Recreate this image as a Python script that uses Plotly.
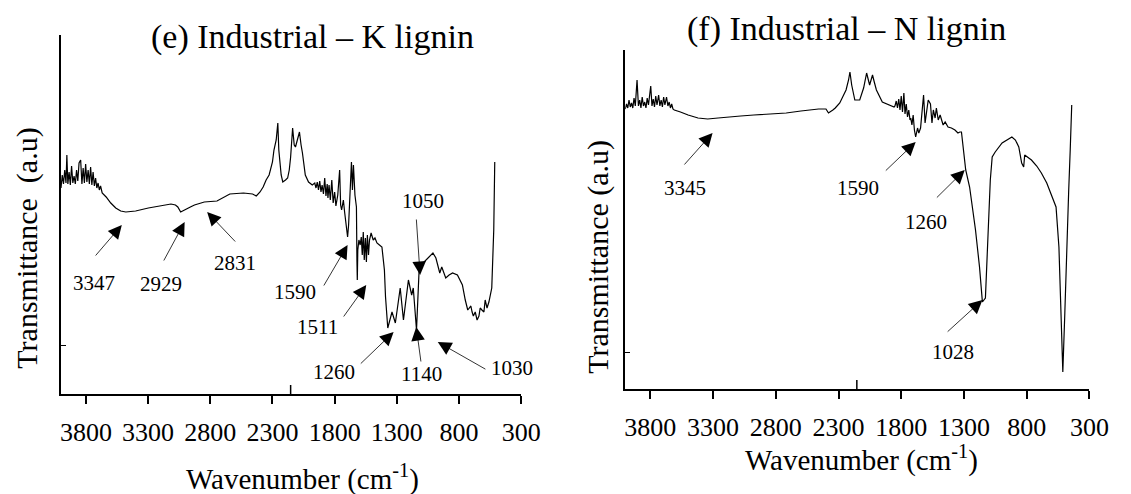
import plotly.graph_objects as go

# ---------------- Data: (e) Industrial - K lignin ----------------
k_wavenumber = [4000,3990,3980,3970,3960,3953,3945,3935,3925,3915,3905,3895,3885,3875,3865,3855,3842,3832,3822,3812,
                3802,3792,3782,3772,3762,3752,3742,3732,3722,3712,3702,3692,3682,3669,
                3637,3600,3560,3520,3479,3400,3298,3200,3116,3080,3061,3038,2998,2960,2927,2848,2746,2643,2533,2460,
                2430,2400,2375,2351,2327,2300,2288,2270,2257,2249,2230,2217,2195,2178,2165,2154,2138,2125,2115,2100,
                2083,2070,2059,2036,2010,1980,
                1960,1950,1940,1930,1920,1910,1901,1890,1880,1870,1860,1854,1845,1835,1823,1812,1800,1790,1775,1760,
                1752,1744,1730,1720,1706,1696,1688,1681,1665,1657,1649,1637,1625,1621,1618,1614,1605,1595,1586,1578,
                1570,1562,1553,1545,1537,1528,1520,1507,1490,1476,1460,1440,1420,1400,1391,1373,1339,1312,1273,1247,
                1207,1181,1168,1142,1120,1089,1050,1010,986,955,939,907,880,852,813,773,750,740,730,718,705,695,685,
                670,655,640,630,616,600,590,575,560,537,521,513]
k_transmittance = [206,219,210,224,211,239,210,222,209,228,211,218,210,224,213,231,234,210,226,211,
                   230,212,224,210,227,209,222,208,216,206,211,204,208,201,
                   197,191,186,183,182,183,186,188,190,189,187,182,185,187,189,192,193,200,201,200,
                   198,202,207,214,219,232,244,254,271,244,219,212,214,216,224,237,266,249,247,254,
                   262,249,241,219,212,209,
                   211,206,212,204,213,202,209,200,216,198,210,196,209,194,214,191,202,188,199,224,
                   189,184,194,182,169,157,169,194,232,204,229,199,187,134,114,144,154,149,157,139,
                   162,134,156,132,159,139,154,161,154,156,151,149,147,124,97,66,82,71,106,74,
                   114,99,106,64,127,131,136,141,136,121,127,116,119,121,119,109,94,89,84,86,88,82,78,
                   82,74,78,86,84,82,94,86,92,106,164,232]

# ---------------- Data: (f) Industrial - N lignin ----------------
n_wavenumber = [4000,3990,3980,3970,3960,3950,3940,3930,3920,3906,3895,3885,3875,3865,3855,3845,3835,3825,3815,3797,
                3787,3777,3767,3757,3747,3734,3724,3714,3704,3694,3684,3671,3660,3650,3640,3630,3620,3609,
                3560,3499,3420,3343,3260,3186,3080,2975,2850,2717,2600,2459,2400,2380,2345,2326,2290,2264,2240,2220,
                2209,2195,2170,2150,2131,2100,2076,2052,2029,2015,1998,1951,1900,1857,
                1850,1840,1830,1820,1810,1800,1790,1779,1770,1760,1750,1740,1730,1724,1715,1705,1695,1685,1670,1660,
                1646,1635,1622,1610,1599,1585,1567,1555,1544,1530,1520,1505,1490,1466,1450,1427,1400,1372,1348,1333,
                1320,1309,1286,1255,1208,1176,1153,1129,1114,1090,1075,1051,996,950,918,890,863,840,824,816,790,762,
                720,683,640,605,566,543,527,512,496,481,465,453,441]
n_transmittance = [280,285,281,289,282,286,281,291,283,309,283,289,281,292,283,287,281,291,284,303,
                   283,290,282,293,284,294,283,289,282,292,284,292,283,287,281,285,280,279,
                   277,274,271,270,271,272,273,274,275,276,278,280,280,276,279,281,286,292,299,309,
                   317,304,289,289,289,301,316,304,314,307,299,287,284,282,
                   283,288,281,290,279,293,277,296,275,285,272,279,269,271,264,274,259,252,261,256,
                   261,277,294,266,279,289,285,266,279,271,281,269,274,264,267,262,261,259,256,257,
                   257,246,219,202,159,122,87,91,142,209,232,237,246,250,252,249,242,226,222,234,232,229,
                   223,216,206,194,182,142,76,17,76,149,199,239,284]

tick_values = [3800, 3300, 2800, 2300, 1800, 1300, 800, 300]
tick_text = [str(v) for v in tick_values]

# peak labels: (label, head_wn, head_val, tail_wn, tail_val, label_wn, label_val)
k_peaks = [
    ("3347", 3511, 169, 3732, 137, 3732, 111),
    ("2929", 3006, 172, 3180, 132, 3195, 110),
    ("2831", 2825, 182, 2588, 151, 2604, 131),
    ("1590", 1696, 149, 1894, 107, 2115, 102),
    ("1511", 1546, 109, 1736, 76, 1941, 67),
    ("1260", 1326, 62, 1602, 29, 1807, 22),
    ("1140", 1144, 67, 1105, 31, 1105, 20),
    ("1030", 971, 52, 576, 24, 371, 26),
    ("1050", 1113, 119, 1144, 176, 1089, 193),
]
n_peaks = [
    ("3345", 3304, 256, 3539, 223, 3523, 201),
    ("1590", 1685, 247, 1935, 217, 2146, 201),
    ("1260", 1294, 219, 1528, 190, 1599, 167),
    ("1028", 1153, 89, 1442, 56, 1387, 37),
]

FONT = "Liberation Serif, Times New Roman, serif"
OFF = 8                      # page body margin of the browser
FW, FH = 1131 - OFF, 494 - OFF

def px(xp):
    return (xp - OFF) / FW

def py(yp):
    return 1 - (yp - OFF) / FH

fig = go.Figure()
fig.add_trace(go.Scatter(x=k_wavenumber, y=k_transmittance, mode="lines",
                         line=dict(color="black", width=1.2), xaxis="x", yaxis="y", showlegend=False))
fig.add_trace(go.Scatter(x=n_wavenumber, y=n_transmittance, mode="lines",
                         line=dict(color="black", width=1.2), xaxis="x2", yaxis="y2", showlegend=False))

xcommon = dict(range=[4000, 300], tickvals=tick_values, ticktext=tick_text, ticks="outside",
               ticklen=8, tickwidth=1.5, tickcolor="black", showline=True, linecolor="black",
               linewidth=1.5, showgrid=False, zeroline=False, ticklabelstandoff=6,
               tickfont=dict(family=FONT, size=26, color="black"))
ycommon = dict(showline=True, linecolor="black", linewidth=1.5, showgrid=False, zeroline=False,
               showticklabels=False, ticks="inside", ticklen=5, tickcolor="black")

fig.update_layout(
    width=FW, height=FH, margin=dict(l=0, r=0, t=0, b=0),
    paper_bgcolor="white", plot_bgcolor="white",
    xaxis=dict(domain=[px(61), px(530)], anchor="y", **xcommon),
    yaxis=dict(domain=[py(394), py(35)], anchor="x", range=[0, 359], tickvals=[49], **ycommon),
    xaxis2=dict(domain=[px(636), px(1109)], anchor="y2", **xcommon),
    yaxis2=dict(domain=[py(389), py(50)], anchor="x2", range=[0, 339], tickvals=[37], **ycommon),
)

ann = []
def add_peaks(peaks, xr, yr):
    for lab, hx, hy, tx, ty, lx, ly in peaks:
        ann.append(dict(x=hx, y=hy, ax=tx, ay=ty, xref=xr, yref=yr, axref=xr, ayref=yr,
                        text="", showarrow=True, arrowhead=2, arrowsize=3.4, arrowwidth=0.8,
                        arrowcolor="black"))
        ann.append(dict(x=lx, y=ly, xref=xr, yref=yr, text=lab, showarrow=False,
                        xanchor="center", yanchor="middle",
                        font=dict(family=FONT, size=21, color="black")))

add_peaks(k_peaks, "x", "y")
add_peaks(n_peaks, "x2", "y2")

def text_ann(x, y, text, size, angle=0):
    return dict(x=px(x), y=py(y), xref="paper", yref="paper", text=text, textangle=angle,
                xanchor="center", yanchor="middle", showarrow=False,
                font=dict(family=FONT, size=size, color="black"))

ann += [
    text_ann(317, 37, "(e) Industrial – K lignin", 34),
    text_ann(861, 29, "(f) Industrial – N lignin", 34),
    text_ann(307, 477, "Wavenumber (cm<sup>-1</sup>)", 29),
    text_ann(877, 458, "Wavenumber (cm<sup>-1</sup>)", 29),
    text_ann(26, 248, "Transmittance  (a.u)", 30, -90),
    text_ann(608, 257, "Transmittance (a.u)", 30, -90),
]
fig.update_layout(annotations=ann)

# small stray tick marks rising from the x axes
for xr, yr in (("x", "y"), ("x2", "y2")):
    fig.add_shape(type="line", xref=xr, yref=yr, x0=2154, x1=2154, y0=0, y1=9,
                  line=dict(color="black", width=1.5))

fig.write_html("out.html")
